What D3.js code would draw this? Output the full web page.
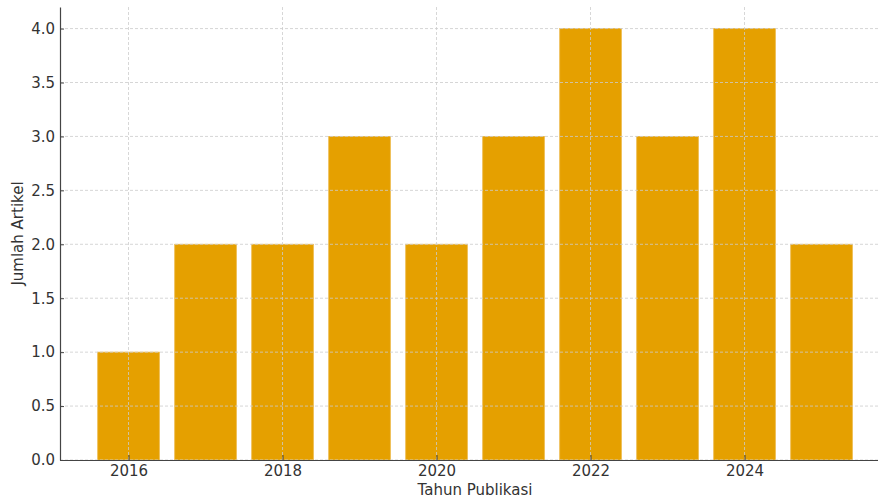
<!DOCTYPE html>
<html lang="en">
<head>
	<title>Jumlah Artikel per Tahun</title>
	<script src="https://d3js.org/d3.v7.min.js" charset="utf-8"></script>
	<style>
		body { margin: 0; background: #fff; }
		text { font-family: "DejaVu Sans", sans-serif; fill: #333; }
	</style>
</head>
<body>
<script>
	// data
	var years = [2016, 2017, 2018, 2019, 2020, 2021, 2022, 2023, 2024, 2025];
	var counts = [1, 2, 2, 3, 2, 3, 4, 3, 4, 2];
	var xTicks = [2016, 2018, 2020, 2022, 2024];
	var yTicks = [0, 0.5, 1, 1.5, 2, 2.5, 3, 3.5, 4];

	var w = 878, h = 500;
	var plotLeft = 60, plotTop = 7, plotBottom = 460;

	var svg = d3.select("body").append("svg")
		.attr("width", w)
		.attr("height", h);

	// one year = 77px, axis runs past the right edge (cropped)
	var xScale = d3.scaleLinear()
		.domain([2015.11, 2025.89])
		.range([plotLeft, plotLeft + 10.78 * 77]);

	var yScale = d3.scaleLinear()
		.domain([0, 4.2])
		.range([plotBottom, plotTop]);

	var barW = xScale(2016.8) - xScale(2016);

	// bars
	svg.selectAll("rect.bar")
		.data(years)
		.enter()
		.append("rect")
		.attr("class", "bar")
		.attr("x", function(d) { return xScale(d) - barW / 2; })
		.attr("y", function(d, i) { return yScale(counts[i]); })
		.attr("width", barW)
		.attr("height", function(d, i) { return plotBottom - yScale(counts[i]); })
		.attr("fill", "#e5a000")
		.attr("stroke", "#ecb640")
		.attr("stroke-width", 0.8);

	// grid on top of bars
	svg.selectAll("line.vgrid")
		.data(xTicks)
		.enter()
		.append("line")
		.attr("x1", function(d) { return xScale(d); })
		.attr("x2", function(d) { return xScale(d); })
		.attr("y1", plotTop)
		.attr("y2", plotBottom)
		.attr("stroke", "#cccccc")
		.attr("stroke-width", 0.8)
		.attr("stroke-dasharray", "3,2");

	svg.selectAll("line.hgrid")
		.data(yTicks)
		.enter()
		.append("line")
		.attr("x1", plotLeft)
		.attr("x2", w)
		.attr("y1", function(d) { return yScale(d); })
		.attr("y2", function(d) { return yScale(d); })
		.attr("stroke", "#cccccc")
		.attr("stroke-width", 0.8)
		.attr("stroke-dasharray", "3,2");

	// x axis
	var xAxis = svg.append("g")
		.attr("transform", "translate(0," + plotBottom + ")")
		.call(d3.axisBottom(xScale).tickValues(xTicks).tickFormat(d3.format("d")).tickSizeInner(-5).tickSizeOuter(0).tickPadding(5.5));

	// y axis
	var yAxis = svg.append("g")
		.attr("transform", "translate(" + plotLeft + ",0)")
		.call(d3.axisLeft(yScale).tickValues(yTicks).tickFormat(d3.format(".1f")).tickSizeInner(-4).tickSizeOuter(0).tickPadding(5));

	[xAxis, yAxis].forEach(function(g) {
		g.select(".domain").attr("stroke", "#444").attr("stroke-width", 1.2);
		g.selectAll(".tick line").attr("stroke", "#444");
		g.selectAll(".tick text").attr("font-size", 15).attr("fill", "#333");
	});

	// axis labels
	svg.append("text")
		.attr("x", (xScale.range()[0] + xScale.range()[1]) / 2)
		.attr("y", 495)
		.attr("text-anchor", "middle")
		.attr("font-size", 15)
		.text("Tahun Publikasi");

	svg.append("text")
		.attr("text-anchor", "middle")
		.attr("transform", "translate(23," + yScale(2.1) + ") rotate(-90)")
		.attr("font-size", 15)
		.text("Jumlah Artikel");
</script>
</body>
</html>
